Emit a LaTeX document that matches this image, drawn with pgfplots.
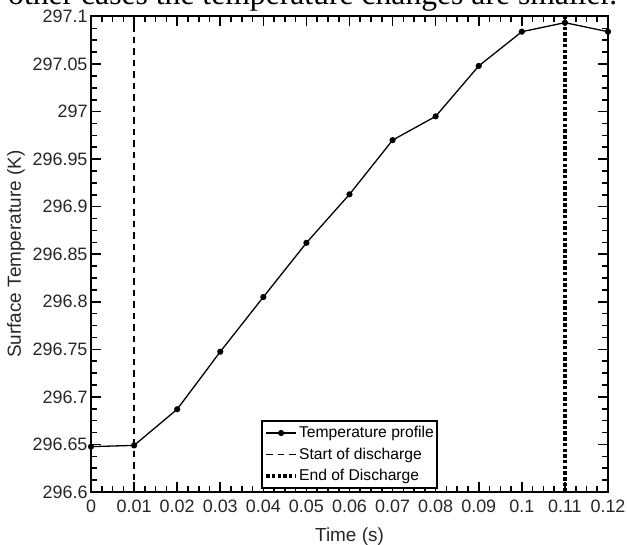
\documentclass[border=0pt]{standalone}
\usepackage{pgfplots}
\pgfplotsset{compat=1.18}
\usepackage{graphicx}
\usepackage{fontspec}
\setmainfont{Liberation Sans}
\newfontfamily\serif{Liberation Serif}
\begin{document}
\begin{tikzpicture}[x=1bp,y=1bp]
\useasboundingbox (0,0) rectangle (627,545);
\node[anchor=base west, inner sep=0pt] at (8,540.5) {\resizebox{609bp}{!}{\serif other cases the temperature changes are smaller.}};
\begin{axis}[
  at={(91bp,53bp)}, anchor=south west,
  scale only axis, width=517bp, height=475.5bp,
  xmin=0, xmax=0.12, ymin=296.6, ymax=297.1,
  xtick={0,0.01,0.02,0.03,0.04,0.05,0.06,0.07,0.08,0.09,0.1,0.11,0.12},
  xticklabels={0,0.01,0.02,0.03,0.04,0.05,0.06,0.07,0.08,0.09,0.1,0.11,0.12},
  ytick={296.6,296.65,296.7,296.75,296.8,296.85,296.9,296.95,297,297.05,297.1},
  yticklabels={296.6,296.65,296.7,296.75,296.8,296.85,296.9,296.95,297,297.05,297.1},
  minor x tick num=3, minor y tick num=3,
  tick align=inside,
  major tick length=10bp, minor tick length=6bp,
  tick style={black, line width=1.6bp},
  axis line style={line width=2bp},
  /pgf/number format/assume math mode=true,
  ticklabel style={font=\fontsize{18}{18}\selectfont, text=black!85},
  xticklabel style={yshift=-4.5bp},
  xlabel={Time (s)}, ylabel={Surface Temperature (K)},
  label style={font=\fontsize{19}{19}\selectfont, text=black!85},
  xlabel style={yshift=-8bp},
  ylabel style={yshift=1bp},
  legend style={at={(0.5,0.0063)}, anchor=south, draw=black, line width=1.8bp,
    font=\fontsize{15.7}{18}\selectfont, inner xsep=2bp, inner ysep=1.5bp,
    nodes={inner ysep=4.3bp, inner xsep=1bp},
    /tikz/every even column/.append style={column sep=0bp}},
  legend cell align=left,
  legend image code/.code={\draw[mark repeat=2, mark phase=2, #1] plot coordinates {(0bp,0bp) (15bp,0bp) (30bp,0bp)};},
]
\addplot[black, line width=1.3bp, mark=*, mark size=2.4bp, mark options={solid}] coordinates {
(0,296.6477) (0.01,296.649) (0.02,296.687) (0.03,296.7475) (0.04,296.805)
(0.05,296.862) (0.06,296.913) (0.07,296.970) (0.08,296.995) (0.09,297.048)
(0.10,297.084) (0.11,297.0935) (0.12,297.084)};
\addlegendentry{Temperature profile}
\addplot[black, line width=1.7bp, dash pattern=on 6.5bp off 5bp] coordinates {(0.01,296.6) (0.01,297.1)};
\addlegendentry{Start of discharge}
\addplot[black, line width=4bp, dash pattern=on 3.5bp off 2.2bp] coordinates {(0.11,296.6) (0.11,297.1)};
\addlegendentry{End of Discharge}
\end{axis}
\end{tikzpicture}
\end{document}
